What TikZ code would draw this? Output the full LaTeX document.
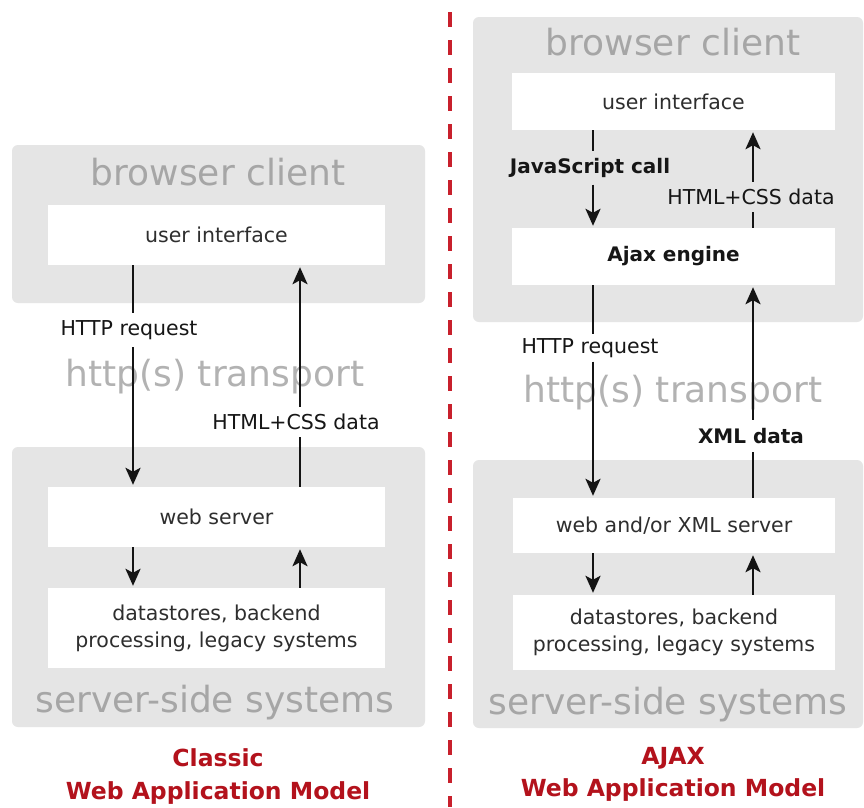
\documentclass[tikz,border=0pt]{standalone}
\usepackage{fontspec}
\setmainfont{DejaVu Sans}
\usetikzlibrary{arrows.meta}
\definecolor{panelgray}{HTML}{E5E5E5}
\definecolor{biggray}{HTML}{A6A6A6}
\definecolor{lightgray}{HTML}{B2B2B2}
\definecolor{boxtext}{HTML}{2E2E2E}
\definecolor{labeltext}{HTML}{161616}
\definecolor{titlered}{HTML}{B3121C}
\definecolor{divred}{HTML}{C8202C}
\tikzset{
  panel/.style={fill=panelgray, draw=none, rounded corners=6pt, inner sep=0pt},
  whitebox/.style={fill=white, draw=none, inner sep=0pt, align=center,
    text=boxtext, font=\fontsize{20.5}{27}\selectfont},
  bigword/.style={text=biggray, inner sep=0pt, font=\fontsize{36}{40}\selectfont},
  transport/.style={text=lightgray, inner sep=0pt, font=\fontsize{36}{40}\selectfont},
  flowlabel/.style={text=labeltext, inner sep=0pt, minimum height=30pt,
    font=\fontsize{20.5}{22}\selectfont},
  boldlabel/.style={flowlabel, font=\fontsize{20}{22}\selectfont\bfseries},
  title/.style={text=titlered, inner sep=0pt, font=\fontsize{23.5}{26}\selectfont\bfseries},
  flow/.style={line width=2.5pt, black!92},
  tip/.style={flow, -{Stealth[length=17pt,width=15pt,inset=4pt]}, shorten >=2pt}
}
\begin{document}
\begin{tikzpicture}[x=1pt, y=-1pt]
\useasboundingbox (0,0) rectangle (864,807);
\fill[white] (0,0) rectangle (864,807);

% ---------- classic model (left) ----------
\node[panel, minimum width=413pt, minimum height=158pt] (lbc) at (218.5,224) {};
\node[bigword] (lbctext) at (218,172) {browser client};
\node[whitebox, minimum width=337pt, minimum height=60pt] (lui) at (216.5,235) {user interface};

\node[transport] (lhttp) at (215,377) {http(s) transport};

\node[panel, minimum width=413pt, minimum height=280pt] (lss) at (218.5,587) {};
\node[whitebox, minimum width=337pt, minimum height=60pt] (lws) at (216.5,517) {web server};
\node[whitebox, minimum width=337pt, minimum height=80pt] (lds) at (216.5,628)
  {datastores, backend\\processing, legacy systems};
\node[bigword] (lsstext) at (215,703) {server-side systems};

\node[title] (ltitle1) at (218,758) {Classic};
\node[title] (ltitle2) at (218,793) {Web Application Model};

\coordinate (lA) at (133,0);
\coordinate (lB) at (300,0);
\node[flowlabel, minimum height=34pt] (lreq) at (129,330) {HTTP request};
\node[flowlabel] (lcss) at (296,422) {HTML+CSS data};

\draw[flow] (lui.south -| lA) -- (lreq.north -| lA);
\draw[tip] (lreq.south -| lA) -- (lws.north -| lA);
\draw[flow] (lws.north -| lB) -- (lcss.south -| lB);
\draw[tip] (lcss.north -| lB) -- (lui.south -| lB);
\draw[tip] (lws.south -| lA) -- (lds.north -| lA);
\draw[tip] (lds.north -| lB) -- (lws.south -| lB);

% ---------- ajax model (right) ----------
\node[panel, minimum width=390pt, minimum height=305pt] (rbc) at (668,169.5) {};
\node[bigword] (rbctext) at (673,42) {browser client};
\node[whitebox, minimum width=323pt, minimum height=57pt] (rui) at (673.5,101.5) {user interface};
\node[whitebox, minimum width=323pt, minimum height=57pt, font=\fontsize{20}{27}\selectfont\bfseries,
  text=labeltext] (rajax) at (673.5,256.5) {Ajax engine};

\node[transport] (rhttp) at (673,393) {http(s) transport};

\node[panel, minimum width=390pt, minimum height=268pt] (rss) at (668,594) {};
\node[whitebox, minimum width=322pt, minimum height=55pt] (rws) at (674,525.5) {web and/or XML server};
\node[whitebox, minimum width=322pt, minimum height=75pt] (rds) at (674,632.5)
  {datastores, backend\\processing, legacy systems};
\node[bigword] (rsstext) at (668,705) {server-side systems};

\node[title] (rtitle1) at (673,758) {AJAX};
\node[title] (rtitle2) at (673,790) {Web Application Model};

\coordinate (rA) at (593,0);
\coordinate (rB) at (753,0);
\node[boldlabel, minimum height=33pt] (rjs) at (590,168) {JavaScript call};
\node[flowlabel] (rcss) at (751,197) {HTML+CSS data};
\node[flowlabel, minimum height=27pt] (rreq) at (590,348) {HTTP request};
\node[boldlabel, minimum height=32pt] (rxml) at (751,436) {XML data};

\draw[flow] (rui.south -| rA) -- (rjs.north -| rA);
\draw[tip] (rjs.south -| rA) -- (rajax.north -| rA);
\draw[flow] (rajax.north -| rB) -- (rcss.south -| rB);
\draw[tip] (rcss.north -| rB) -- (rui.south -| rB);

\draw[flow] (rajax.south -| rA) -- (rreq.north -| rA);
\draw[tip] (rreq.south -| rA) -- (rws.north -| rA);
\draw[flow] (rws.north -| rB) -- (rxml.south -| rB);
\draw[tip] (rxml.north -| rB) -- (rajax.south -| rB);

\draw[tip] (rws.south -| rA) -- (rds.north -| rA);
\draw[tip] (rds.north -| rB) -- (rws.south -| rB);

% ---------- divider ----------
\coordinate (divtop) at (450,12);
\coordinate (divbot) at (450,807);
\draw[divred, line width=4pt, dash pattern=on 15pt off 13pt] (divtop) -- (divbot);
\end{tikzpicture}
\end{document}
